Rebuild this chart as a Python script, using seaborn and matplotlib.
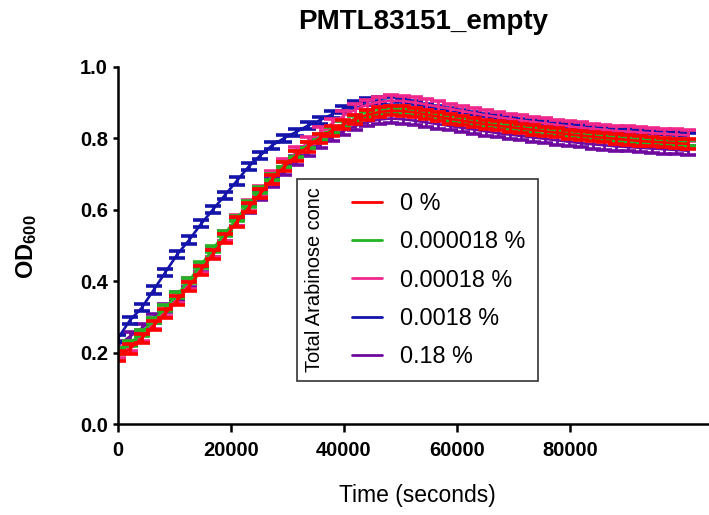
import pandas as pd
import seaborn as sns
import matplotlib.pyplot as plt
from matplotlib.lines import Line2D
from matplotlib.patches import Rectangle

# Growth curve data (mean OD600 and SD per arabinose concentration)
time_s = [0, 2100, 4200, 6300, 8400, 10500, 12600, 14700, 16800, 18900,
          21000, 23100, 25200, 27300, 29400, 31500, 33600, 35700, 37800, 39900,
          42000, 44100, 46200, 48300, 50400, 52500, 54600, 56700, 58800, 60900,
          63000, 65100, 67200, 69300, 71400, 73500, 75600, 77700, 79800, 81900,
          84000, 86100, 88200, 90300, 92400, 94500, 96600, 98700, 100800]

od_0 = [0.190, 0.210, 0.240, 0.275, 0.310, 0.345, 0.385, 0.430, 0.475, 0.520,
        0.565, 0.605, 0.645, 0.685, 0.720, 0.750, 0.775, 0.800, 0.820, 0.838,
        0.853, 0.865, 0.873, 0.877, 0.876, 0.872, 0.866, 0.860, 0.854, 0.849,
        0.844, 0.839, 0.835, 0.831, 0.827, 0.823, 0.819, 0.815, 0.811, 0.807,
        0.804, 0.801, 0.798, 0.795, 0.792, 0.790, 0.788, 0.786, 0.784]
od_000018 = [0.205, 0.225, 0.255, 0.290, 0.325, 0.362, 0.402, 0.445, 0.490, 0.533,
             0.575, 0.615, 0.655, 0.692, 0.726, 0.755, 0.780, 0.803, 0.823, 0.840,
             0.855, 0.866, 0.873, 0.876, 0.875, 0.871, 0.865, 0.859, 0.853, 0.848,
             0.843, 0.838, 0.834, 0.830, 0.826, 0.822, 0.818, 0.814, 0.811, 0.808,
             0.805, 0.802, 0.799, 0.797, 0.795, 0.793, 0.791, 0.789, 0.787]
od_00018 = [0.200, 0.218, 0.248, 0.282, 0.318, 0.353, 0.393, 0.437, 0.481, 0.526,
            0.570, 0.611, 0.652, 0.692, 0.728, 0.760, 0.788, 0.815, 0.840, 0.862,
            0.880, 0.893, 0.901, 0.905, 0.904, 0.900, 0.894, 0.888, 0.882, 0.876,
            0.870, 0.864, 0.859, 0.854, 0.849, 0.845, 0.841, 0.837, 0.833, 0.829,
            0.826, 0.823, 0.820, 0.818, 0.816, 0.814, 0.812, 0.810, 0.808]
od_0018 = [0.240, 0.290, 0.325, 0.375, 0.425, 0.475, 0.515, 0.560, 0.600, 0.640,
           0.680, 0.720, 0.752, 0.780, 0.800, 0.817, 0.835, 0.850, 0.866, 0.881,
           0.894, 0.903, 0.906, 0.904, 0.899, 0.893, 0.887, 0.881, 0.875, 0.869,
           0.864, 0.859, 0.854, 0.849, 0.845, 0.841, 0.837, 0.833, 0.829, 0.826,
           0.823, 0.820, 0.817, 0.815, 0.813, 0.811, 0.809, 0.807, 0.805]
od_018 = [0.220, 0.245, 0.268, 0.295, 0.325, 0.358, 0.395, 0.437, 0.480, 0.523,
          0.565, 0.603, 0.640, 0.676, 0.708, 0.737, 0.762, 0.784, 0.803, 0.820,
          0.834, 0.845, 0.852, 0.855, 0.853, 0.849, 0.844, 0.839, 0.834, 0.829,
          0.824, 0.819, 0.814, 0.810, 0.806, 0.802, 0.798, 0.794, 0.790, 0.786,
          0.783, 0.780, 0.777, 0.775, 0.773, 0.771, 0.769, 0.767, 0.765]

concentrations = ['0 %', '0.000018 %', '0.00018 %', '0.0018 %', '0.18 %']
od_means = [od_0, od_000018, od_00018, od_0018, od_018]
od_sd = [0.013, 0.008, 0.015, 0.010, 0.012]
series_colors = ['#FF0000', '#22B422', '#F0288C', '#1414AA', '#6E0AA0']

sns.set_style('ticks', {'axes.edgecolor': 'black', 'xtick.color': 'black',
                        'ytick.color': 'black', 'text.color': 'black',
                        'axes.labelcolor': 'black'})
plt.rcParams['font.family'] = ['Liberation Sans', 'DejaVu Sans']
plt.rcParams['mathtext.fontset'] = 'custom'
plt.rcParams['mathtext.rm'] = 'Liberation Sans:bold'
plt.rcParams['mathtext.bf'] = 'Liberation Sans:bold'

fig = plt.figure(figsize=(7.09, 5.15), dpi=100)
ax = fig.add_axes([118 / 709, 91 / 515, 591 / 709, 357.3 / 515])

# reverse order so that 0 % ends up on top
for i in reversed(range(len(concentrations))):
    df = pd.DataFrame({'Time': time_s, 'OD': od_means[i]})
    ax.errorbar(df['Time'], df['OD'], yerr=od_sd[i], fmt='none',
                ecolor=series_colors[i], elinewidth=2, capsize=6, capthick=2.6)
    sns.lineplot(data=df, x='Time', y='OD', color=series_colors[i], lw=1.9,
                 legend=False, ax=ax)

ax.set_xlim(0, 104600)
ax.set_ylim(0, 1.0)
ax.set_xticks([0, 20000, 40000, 60000, 80000])
ax.set_yticks([0.0, 0.2, 0.4, 0.6, 0.8, 1.0])
ax.set_yticklabels(['0.0', '0.2', '0.4', '0.6', '0.8', '1.0'])
sns.despine(ax=ax)
for side in ['left', 'bottom']:
    ax.spines[side].set_linewidth(1.8)
ax.tick_params(axis='both', labelsize=14.5, width=1.8)
ax.tick_params(axis='x', length=6, pad=6)
ax.tick_params(axis='y', length=3.6, pad=3.6)
for lab in ax.get_xticklabels() + ax.get_yticklabels():
    lab.set_fontweight('bold')

ax.set_xlabel('Time (seconds)', fontsize=16.5, va='center')
ax.xaxis.set_label_coords(0.506, -0.199)
ax.set_ylabel(r'$\mathbf{OD_{600}}$', fontsize=17, va='center')
ax.yaxis.set_label_coords(-0.155, 0.495)

fig.text(423 / 709, 1 - 22 / 515, 'PMTL83151_empty', fontsize=20,
         fontweight='bold', ha='center', va='center')

# legend with rotated title inside a box
handles = [Line2D([], [], color=c, lw=2) for c in series_colors]
ax.legend(handles, concentrations, loc='center left',
          bbox_to_anchor=(352 / 709, 1 - 280 / 515), bbox_transform=fig.transFigure,
          frameon=False, fontsize=16.8, handlelength=1.3, handletextpad=0.75,
          labelspacing=0.66, borderpad=0, borderaxespad=0)
fig.add_artist(Rectangle((297 / 709, 1 - 381 / 515), 241 / 709, 202 / 515,
                         transform=fig.transFigure, fill=False,
                         edgecolor='#333333', lw=1.2))
fig.text(315 / 709, 1 - 280 / 515, 'Total Arabinose conc', rotation=90,
         fontsize=14.4, ha='center', va='center')

fig.savefig('out.png', dpi=100)
